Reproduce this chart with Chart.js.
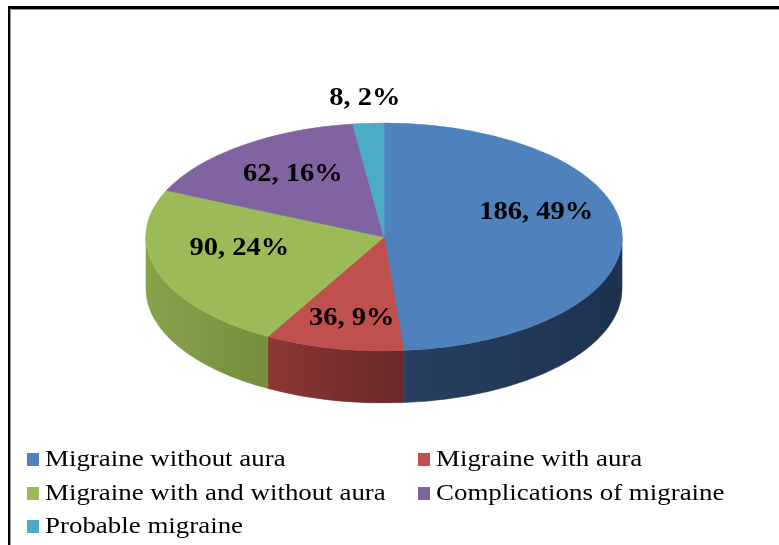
<!DOCTYPE html>
<html lang="en">
<head>
    <meta charset="UTF-8">
    <title>Migraine types</title>
    <script src="https://cdn.jsdelivr.net/npm/chart.js"></script>
    <style>
        html, body {
            margin: 0;
            padding: 0;
            background: #fff;
            overflow: hidden;
        }
        .frame {
            position: absolute;
            left: 8px;
            top: 6px;
            width: 820px;
            height: 600px;
            border: 2px solid #000;
            border-top-width: 3px;
            box-shadow: inset 1px 1px 0 #9a9a9a;
        }
        #pie {
            position: absolute;
            left: 0;
            top: 0;
        }
        .legend-item {
            position: absolute;
            display: flex;
            align-items: center;
            height: 26px;
            font-family: "Liberation Serif", "Times New Roman", serif;
            font-size: 23px;
            line-height: 26px;
            color: #000;
            white-space: nowrap;
        }
        .legend-item .box {
            width: 12px;
            height: 13px;
            margin-right: 6px;
        }
        .legend-item .txt {
            display: inline-block;
            transform: scaleX(1.17);
            transform-origin: left center;
        }
    </style>
</head>
<body>

<div class="frame"></div>
<canvas id="pie" width="779" height="545"></canvas>
<div id="legend"></div>

<script>
// data
const categories = [
    'Migraine without aura',
    'Migraine with aura',
    'Migraine with and without aura',
    'Complications of migraine',
    'Probable migraine'
];
const counts = [186, 36, 90, 62, 8];

// office palette: top face, then side wall (light -> dark)
const topColors = ['#4F81BD', '#C0504D', '#9BBB59', '#8064A2', '#4BACC6'];
const sideLight = ['#27405f', '#8c3634', '#86a34c', '#5f4a7a', '#36869a'];
const sideDark  = ['#1e3250', '#692929', '#748e3d', '#4a3960', '#2a6b7b'];

const total = counts.reduce((a, b) => a + b, 0);
const percents = counts.map(v => Math.round(v / total * 100));

// where the flattened pie sits on the page
const cx = 384, cy = 237, rx = 238, ry = 114, depth = 52;

const pie3d = {
    id: 'pie3d',
    beforeDatasetsDraw(chart) {
        const ctx = chart.ctx;
        const arcs = chart.getDatasetMeta(0).data;
        // side wall, only the front half is visible
        arcs.forEach((arc, i) => {
            const a = Math.max(arc.startAngle, 0);
            const b = Math.min(arc.endAngle, Math.PI);
            if (b <= a) return;
            const xa = cx + rx * Math.cos(a), ya = cy + ry * Math.sin(a);
            const xb = cx + rx * Math.cos(b), yb = cy + ry * Math.sin(b);
            const g = ctx.createLinearGradient(Math.min(xa, xb), 0, Math.max(xa, xb), 0);
            g.addColorStop(0, sideLight[i]);
            g.addColorStop(1, sideDark[i]);
            ctx.save();
            ctx.beginPath();
            ctx.moveTo(xa, ya);
            ctx.ellipse(cx, cy, rx, ry, 0, a, b);
            ctx.lineTo(xb, yb + depth);
            ctx.ellipse(cx, cy + depth, rx, ry, 0, b, a, true);
            ctx.closePath();
            ctx.fillStyle = g;
            ctx.fill();
            ctx.strokeStyle = g;
            ctx.lineWidth = 0.6;
            ctx.stroke();
            ctx.restore();
        });
        // squash the library's pie into the top face
        const arc = arcs[0];
        ctx.save();
        ctx.translate(cx, cy);
        ctx.scale(rx / arc.outerRadius, ry / arc.outerRadius);
        ctx.translate(-arc.x, -arc.y);
    },
    afterDatasetsDraw(chart) {
        const ctx = chart.ctx;
        ctx.restore();
        const arcs = chart.getDatasetMeta(0).data;
        arcs.forEach((arc, i) => {
            const mid = (arc.startAngle + arc.endAngle) / 2;
            const c = Math.cos(mid), s = Math.sin(mid);
            let x, y;
            if (percents[i] < 5) {
                // small slice: label sits outside, above the rim
                x = cx + rx * 1.22 * c;
                y = cy + ry * 1.22 * s;
            } else {
                // rough perspective: near half looks deeper, side labels ride higher
                const f = 0.64;
                x = cx + rx * f * c;
                y = cy + ry * f * s * (s > 0 ? 1.15 : 1) - 22 * (1 - Math.abs(s));
            }
            ctx.save();
            ctx.translate(x, y);
            ctx.scale(1.14, 1);
            ctx.font = 'bold 25px "Liberation Serif", "Times New Roman", serif';
            ctx.fillStyle = '#000';
            ctx.textAlign = 'center';
            ctx.textBaseline = 'middle';
            ctx.fillText(counts[i] + ', ' + percents[i] + '%', 0, 0);
            ctx.restore();
        });
    }
};

new Chart(document.getElementById('pie'), {
    type: 'pie',
    data: {
        labels: categories,
        datasets: [{
            data: counts,
            backgroundColor: topColors,
            borderColor: topColors,
            borderWidth: 1,
            clip: false
        }]
    },
    options: {
        responsive: false,
        animation: false,
        layout: {
            padding: { left: 146, right: 157, top: 10, bottom: 59 }
        },
        plugins: {
            legend: { display: false },
            tooltip: { enabled: false }
        }
    },
    plugins: [pie3d]
});

// legend laid out in two columns like the original
const legendCols = [27, 418];
const legendRows = [446, 480, 513];
const legendEl = document.getElementById('legend');
categories.forEach((name, i) => {
    const item = document.createElement('div');
    item.className = 'legend-item';
    item.style.left = legendCols[i % 2] + 'px';
    item.style.top = legendRows[Math.floor(i / 2)] + 'px';
    const box = document.createElement('span');
    box.className = 'box';
    box.style.background = topColors[i];
    const txt = document.createElement('span');
    txt.className = 'txt';
    txt.textContent = name;
    item.appendChild(box);
    item.appendChild(txt);
    legendEl.appendChild(item);
});
</script>

</body>
</html>
